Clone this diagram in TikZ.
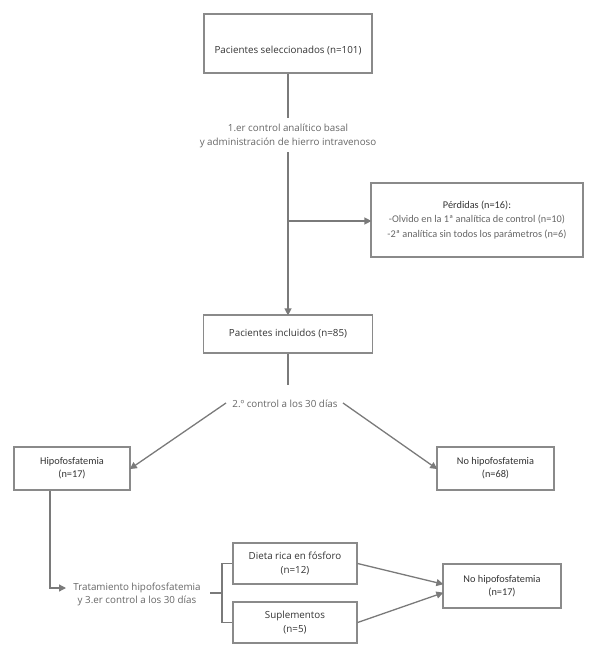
\documentclass[tikz,border=0pt]{standalone}
\usepackage{fontspec}
\setmainfont{Open Sans}
\newfontfamily\calfont{Carlito}
\usetikzlibrary{arrows.meta}
\definecolor{linegray}{HTML}{7A7A7A}
\definecolor{boxgray}{HTML}{8A8A8A}
\definecolor{txtdark}{HTML}{333333}
\definecolor{txtgray}{HTML}{666666}
\begin{document}
\begin{tikzpicture}[x=1pt,y=-1pt,
  box/.style={draw=boxgray,line width=1.2pt,rectangle,inner sep=0pt,align=center,text=txtdark,font=\fontsize{9.8}{14.5}\selectfont},
  cbox/.style={box,font=\calfont\fontsize{10.3}{13}\selectfont},
  lab/.style={align=center,text=txtgray,inner sep=2pt,font=\fontsize{9.8}{13.5}\selectfont},
  conn/.style={draw=linegray,line width=1.3pt},
  arr/.style={conn,-{Triangle[length=7pt,width=7pt]},shorten >=-1pt}]
\useasboundingbox (0,0) rectangle (597,658);

\node[box,minimum width=168pt,minimum height=59pt] (sel) at (288,43.5) {};
\node[text=txtdark,font=\fontsize{9.8}{14}\selectfont,inner sep=0pt] (seltxt) at (288,51) {Pacientes seleccionados (n=101)};

\node[lab] (lab1) at (288,136) {1.er control analítico basal\\y administración de hierro intravenoso};

\node[cbox,minimum width=212pt,minimum height=74pt,font=\calfont\fontsize{10.3}{14.5}\selectfont] (perd) at (477,220)
  {Pérdidas (n=16):\\\textcolor{txtgray}{-Olvido en la 1ª analítica de control (n=10)}\\\textcolor{txtgray}{-2ª analítica sin todos los parámetros (n=6)}};

\node[box,minimum width=169pt,minimum height=38pt] (inc) at (288,334) {Pacientes incluidos (n=85)};

\node[lab] (lab2) at (285,404) {2.º control a los 30 días};

\node[cbox,minimum width=116pt,minimum height=43pt] (hipo) at (72,468.5) {Hipofosfatemia\\(n=17)};
\node[cbox,minimum width=117pt,minimum height=43pt] (nh68) at (495.5,468.5) {No hipofosfatemia\\(n=68)};

\node[lab,inner sep=1pt] (lab3) at (137,594.5) {Tratamiento hipofosfatemia\\y 3.er control a los 30 días};

\node[box,minimum width=124pt,minimum height=41pt] (dieta) at (295,563.5) {Dieta rica en fósforo\\(n=12)};
\node[box,minimum width=124pt,minimum height=41pt] (supl) at (295,622.5) {Suplementos\\(n=5)};

\node[cbox,minimum width=118pt,minimum height=44pt] (nh17) at (502,586) {No hipofosfatemia\\(n=17)};

% connectors
\draw[conn] (sel.south) -- (sel.south |- 0,118);
\draw[arr] (288,152) -- (inc.north);
\coordinate (br) at (288,221);
\draw[arr] (br) -- (br -| perd.west);
\draw[conn] (inc.south) -- (288,385);
\draw[arr] (226,403) -- (hipo.east);
\draw[arr] (343,403) -- (nh68.west);
\draw[arr] ([xshift=-22pt]hipo.south) |- (65,588);
\coordinate (bk) at (222,593);
\draw[conn] (210,593) -- (bk);
\draw[conn] (dieta.west) -| (bk) |- (supl.west);
\draw[arr] (dieta.east) -- ([yshift=2pt]nh17.west);
\draw[arr] (supl.east) -- ([yshift=-7pt]nh17.west);
\end{tikzpicture}
\end{document}
